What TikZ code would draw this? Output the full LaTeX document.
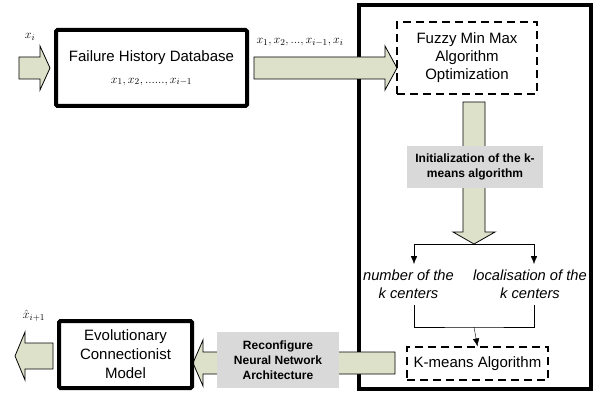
\documentclass[tikz,border=0pt]{standalone}
\usepackage{fontspec}
\usepackage{amsmath}
\setmainfont{Liberation Sans}
\usetikzlibrary{arrows.meta,backgrounds}
\definecolor{arrowfill}{RGB}{221,225,202}
\definecolor{labelgray}{RGB}{217,217,217}
\tikzset{
  thickbox/.style={draw, line width=4pt, rounded corners=1.5pt, align=center, font=\fontsize{15}{19}\selectfont},
  dashbox/.style={draw, dash pattern=on 8pt off 5pt, line width=1.1pt, align=center, font=\fontsize{15}{18}\selectfont},
  graylabel/.style={fill=labelgray, align=center, font=\fontsize{12}{15}\bfseries\selectfont},
  blockarrow/.style={draw, fill=arrowfill, line width=0.8pt},
  centers/.style={align=center, font=\fontsize{14.7}{18}\itshape\selectfont, inner sep=0pt},
  seqlabel/.style={font=\fontsize{13}{13}\selectfont, inner sep=0pt}
}
\begin{document}
\begin{tikzpicture}[x=1pt, y=-1pt, >={Latex[length=8pt,width=6.5pt]}]
\useasboundingbox (0,0) rectangle (597,401);
\begin{pgfonlayer}{background}
\node[draw, line width=4pt, minimum width=232pt, minimum height=384pt] (core) at (475,197) {};
% block arrows
\draw[blockarrow] (19,57) -- (40,57) -- (40,46) -- (50,68) -- (40,90) -- (40,79) -- (19,79) -- cycle;
\draw[blockarrow] (254,57) -- (385,57) -- (385,46) -- (397,68) -- (385,90) -- (385,79) -- (254,79) -- cycle;
\draw[blockarrow] (463,102) -- (463,232) -- (453,232) -- (474,244) -- (495,232) -- (485,232) -- (485,102) -- cycle;
\draw[blockarrow] (395,352) -- (203,352) -- (203,340) -- (193,363) -- (203,386) -- (203,374) -- (395,374) -- cycle;
\draw[blockarrow] (53,343) -- (25,343) -- (25,332) -- (15,356) -- (25,380) -- (25,369) -- (53,369) -- cycle;
\end{pgfonlayer}

\node[thickbox, minimum width=191pt, minimum height=76pt] (fhd) at (151.5,68) {Failure History Database\\[3pt] {\fontsize{13}{13}\selectfont $x_1,x_2,......,x_{i-1}$}};
\node[dashbox, minimum width=140pt, minimum height=72pt] (fmm) at (467,58) {Fuzzy Min Max\\Algorithm\\Optimization};
\node[graylabel, minimum width=136pt, minimum height=42pt] (init) at (475,167) {Initialization of the k-\\means algorithm};
\node[centers] (num) at (408.5,284) {number of the\\k centers};
\node[centers] (loc) at (530,284) {localisation of the\\k centers};
\node[dashbox, minimum width=141pt, minimum height=33pt] (km) at (477.5,363.5) {K-means Algorithm};
\node[graylabel, minimum width=122pt, minimum height=56pt] (reconf) at (278,360) {Reconfigure\\Neural Network\\Architecture};
\node[thickbox, minimum width=133pt, minimum height=67pt] (ecm) at (125.5,354.5) {Evolutionary\\Connectionist\\Model};

\node[seqlabel] (xin) at (30,37) {$x_i$};
\node[seqlabel] (xseq) at (300,42) {$x_1,x_2,...,x_{i-1},x_i$};
\node[seqlabel] (xout) at (34,316) {$\hat{x}_{i+1}$};

% splitting and merging lines
\coordinate (split) at (474,244);
\coordinate (numin) at (414,264);
\coordinate (locin) at (534,264);
\coordinate (numout) at (414,305);
\coordinate (locout) at (534,305);
\coordinate (merge) at (474,327);
\draw[->] (split) -| (numin);
\draw[->] (split) -| (locin);
\draw (numout) |- (merge) -| (locout);
\draw[->] (merge) -- (km.north);
\end{tikzpicture}
\end{document}
